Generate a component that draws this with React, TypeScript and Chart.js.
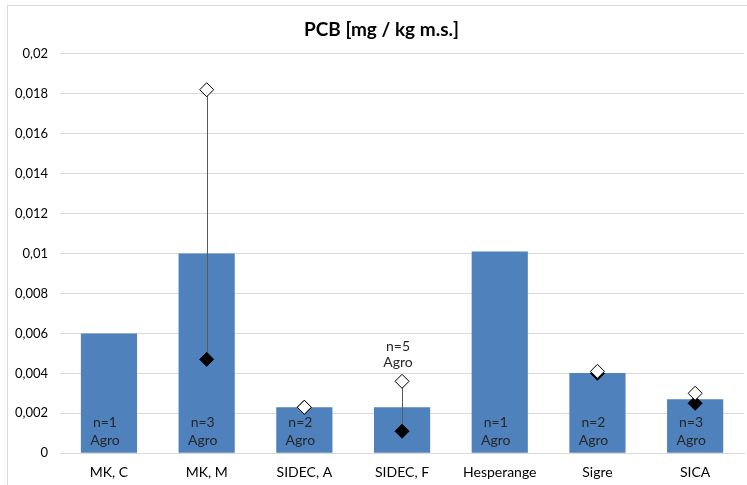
import React, { useEffect, useRef } from "react";
import { Chart, registerables } from "chart.js";

Chart.register(...registerables);

const categories = ["MK, C", "MK, M", "SIDEC, A", "SIDEC, F", "Hesperange", "Sigre", "SICA"];
const barValues = [0.006, 0.01, 0.0023, 0.0023, 0.0101, 0.00402, 0.0027];
const maxValues: (number | null)[] = [null, 0.0182, 0.0023, 0.0036, null, 0.0041, 0.003];
const minValues: (number | null)[] = [null, 0.0047, 0.0023, 0.0011, null, 0.004, 0.0025];
const nLabels = ["n=1", "n=3", "n=2", "n=5", "n=1", "n=2", "n=3"];
const originLabels = ["Agro", "Agro", "Agro", "Agro", "Agro", "Agro", "Agro"];
const labelAbove = [false, false, false, true, false, false, false];
const yTicks = [0, 0.002, 0.004, 0.006, 0.008, 0.01, 0.012, 0.014, 0.016, 0.018, 0.02];
const FONT = "Lato, 'Open Sans', sans-serif";

const rangePlugin = {
  id: "rangeLines",
  beforeDatasetDraw(chart: any, args: any) {
    if (args.index !== 1) return;
    const { ctx, scales } = chart;
    ctx.save();
    ctx.strokeStyle = "#595959";
    ctx.lineWidth = 1;
    categories.forEach((c, i) => {
      const a = maxValues[i];
      const b = minValues[i];
      if (a == null || b == null) return;
      const x = Math.round(scales.x.getPixelForValue(i)) + 0.5;
      ctx.beginPath();
      ctx.moveTo(x, scales.y.getPixelForValue(a));
      ctx.lineTo(x, scales.y.getPixelForValue(b));
      ctx.stroke();
    });
    ctx.restore();
  },
};

const labelPlugin = {
  id: "nLabels",
  afterDatasetsDraw(chart: any) {
    const { ctx, scales } = chart;
    ctx.save();
    ctx.font = `14px ${FONT}`;
    ctx.fillStyle = "#262626";
    ctx.textAlign = "center";
    ctx.textBaseline = "middle";
    categories.forEach((c, i) => {
      const x = scales.x.getPixelForValue(i) - 4;
      if (labelAbove[i]) {
        const top = scales.y.getPixelForValue(maxValues[i] ?? barValues[i]);
        ctx.fillText(originLabels[i], x, top - 19);
        ctx.fillText(nLabels[i], x, top - 35);
      } else {
        const base = scales.y.getPixelForValue(0);
        ctx.fillText(originLabels[i], x, base - 13);
        ctx.fillText(nLabels[i], x, base - 31);
      }
    });
    ctx.restore();
  },
};

export default function App() {
  const ref = useRef<HTMLCanvasElement>(null);
  useEffect(() => {
    document.body.style.margin = "0";
    const chart = new Chart(ref.current!, {
      type: "bar",
      data: {
        labels: categories,
        datasets: [
          {
            type: "bar",
            data: barValues,
            backgroundColor: "#4F81BD",
            barPercentage: 0.575,
            categoryPercentage: 1,
            order: 3,
          },
          {
            type: "line",
            data: minValues,
            showLine: false,
            pointStyle: "rectRot",
            pointRadius: 7,
            backgroundColor: "#000000",
            borderColor: "#000000",
            pointBorderWidth: 1,
            order: 2,
          },
          {
            type: "line",
            data: maxValues,
            showLine: false,
            pointStyle: "rectRot",
            pointRadius: 7,
            backgroundColor: "#ffffff",
            borderColor: "#000000",
            pointBorderWidth: 1,
            order: 1,
          },
        ] as any,
      },
      options: {
        animation: false,
        responsive: false,
        layout: { padding: { left: -5, right: -8, top: 2, bottom: 1 } },
        plugins: {
          legend: { display: false },
          tooltip: { enabled: false },
          title: {
            display: true,
            text: "PCB [mg / kg m.s.]",
            color: "#000000",
            font: { family: FONT, size: 19, weight: "bold" },
            padding: { top: 10, bottom: 13 },
          },
        },
        scales: {
          x: {
            grid: { display: false },
            border: { color: "#d9d9d9" },
            ticks: { color: "#000000", font: { family: FONT, size: 14 }, padding: 3 },
          },
          y: {
            min: 0,
            max: 0.02,
            afterBuildTicks: (s: any) => {
              s.ticks = yTicks.map((v) => ({ value: v }));
            },
            grid: { color: "#d9d9d9", drawTicks: false },
            border: { display: false },
            ticks: {
              color: "#000000",
              font: { family: FONT, size: 13 },
              padding: 12,
              callback: (v: any) => Number(v).toString().replace(".", ","),
            },
          },
        },
      },
      plugins: [rangePlugin, labelPlugin],
    });
    return () => chart.destroy();
  }, []);
  return (
    <div style={{ position: "relative", width: 747, height: 485, background: "#fff", overflow: "hidden" }}>
      <div
        style={{
          position: "absolute",
          left: 7,
          top: 5,
          width: 760,
          height: 500,
          border: "1px solid #d9d9d9",
          boxSizing: "border-box",
        }}
      />
      <canvas
        ref={ref}
        width={744}
        height={479}
        style={{ position: "absolute", left: 8, top: 6 }}
      />
    </div>
  );
}
